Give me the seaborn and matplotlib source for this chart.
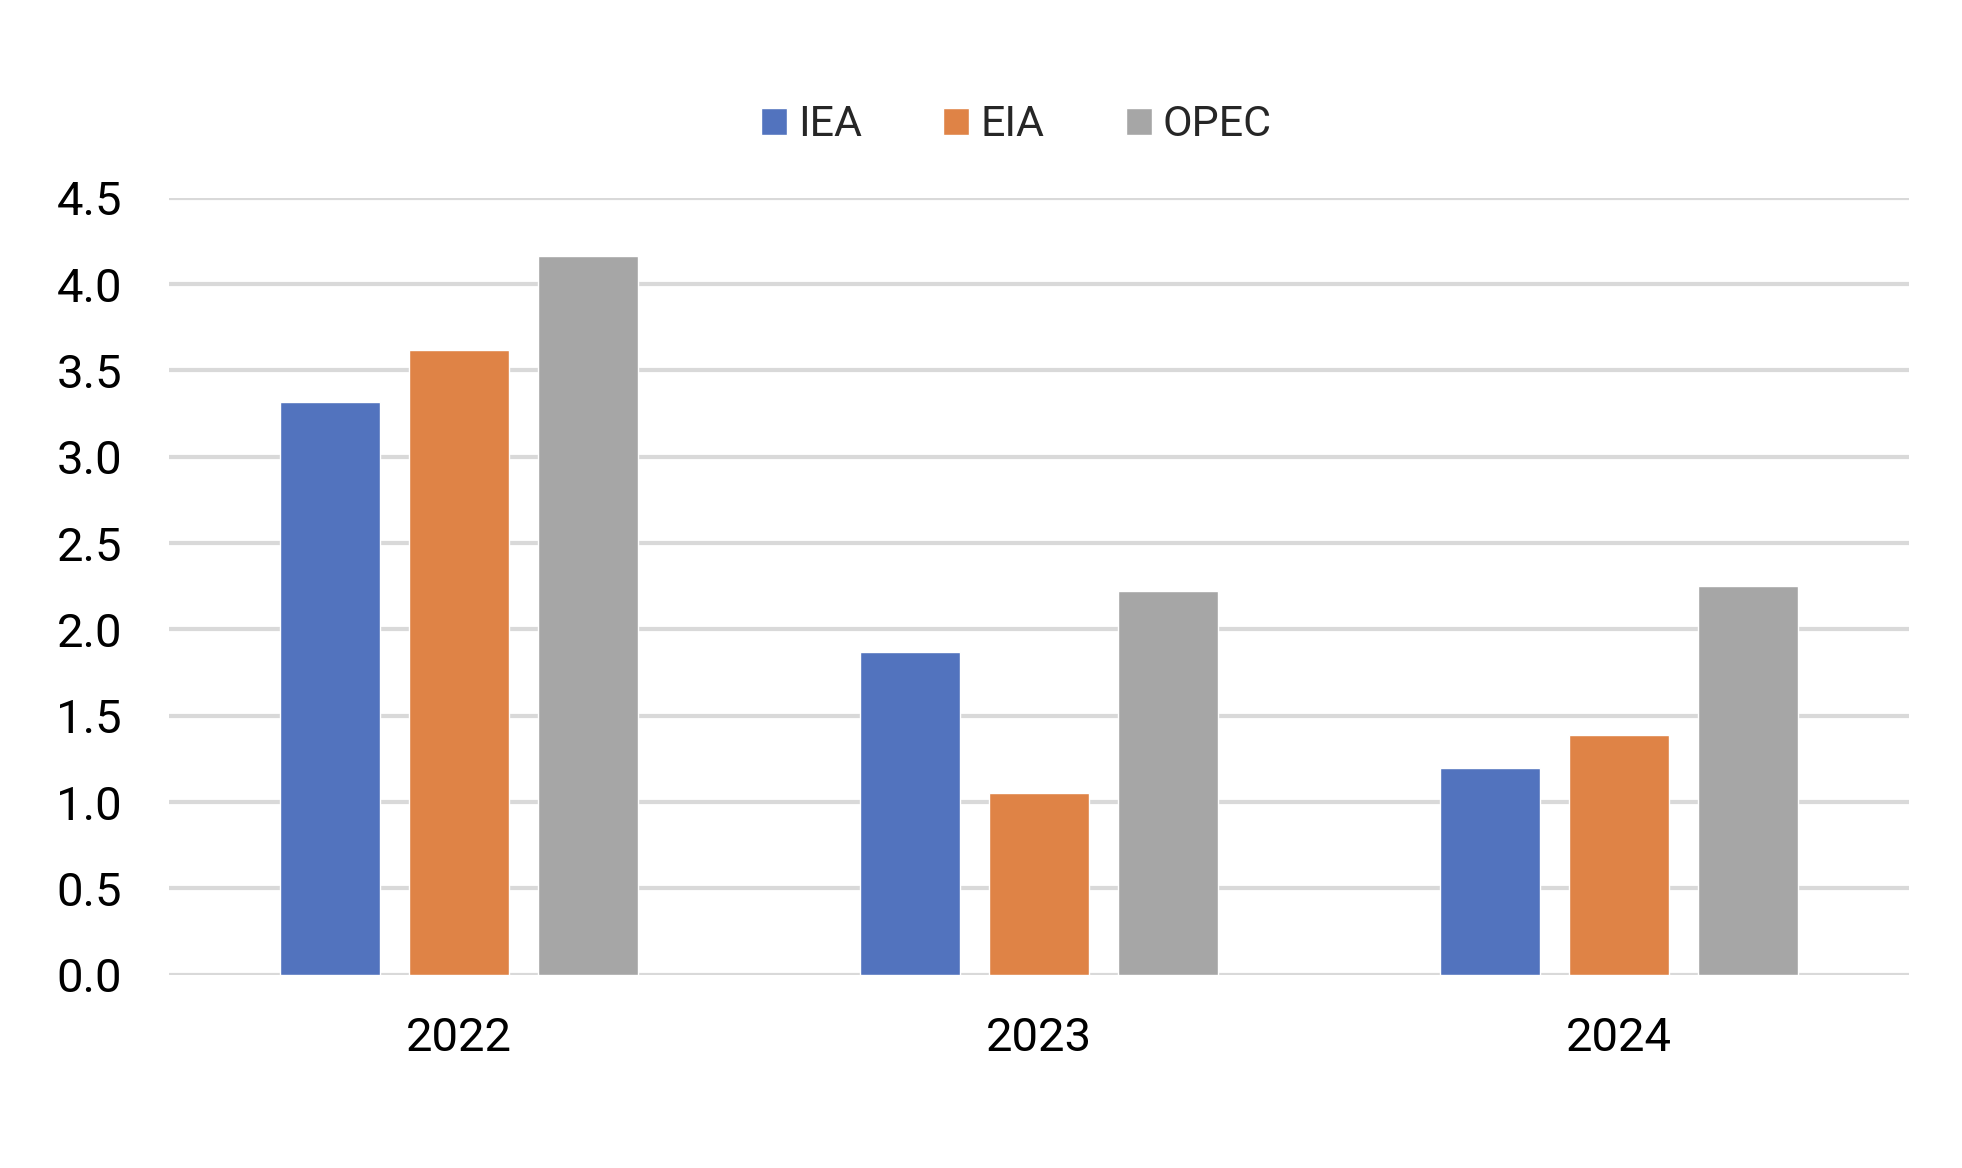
import matplotlib
matplotlib.use("Agg")
import matplotlib.pyplot as plt
import seaborn as sns
import pandas as pd

years = ["2022", "2023", "2024"]
agencies = ["IEA", "EIA", "OPEC"]
iea = [3.32, 1.87, 1.20]
eia = [3.62, 1.05, 1.39]
opec = [4.16, 2.22, 2.25]
colors = ["#5273BE", "#DF8346", "#A6A6A6"]
y_ticks = [0.0, 0.5, 1.0, 1.5, 2.0, 2.5, 3.0, 3.5, 4.0, 4.5]


def build_df() -> pd.DataFrame:
    record = []
    for name, vals in zip(agencies, [iea, eia, opec]):
        for yr, v in zip(years, vals):
            record.append([yr, name, v])
    return pd.DataFrame(record, columns=["year", "agency", "value"])


df = build_df()

sns.set_theme(style="white")
plt.rcParams["font.family"] = ["Roboto", "DejaVu Sans"]

fig = plt.figure(figsize=(19.62, 11.68), dpi=100)
ax = fig.add_axes([0.0862, 0.1654, 0.8868, 0.6653])

sns.barplot(data=df, x="year", y="value", hue="agency", order=years, hue_order=agencies,
            palette=colors, width=0.667, gap=0.22, saturation=1, ax=ax, legend=True)

ax.set_ylim(0, 4.5)
ax.set_xlim(-0.5, 2.5)
ax.set_yticks(y_ticks)
ax.set_yticklabels([f"{t:.1f}" for t in y_ticks])
ax.yaxis.grid(True, color="#D9D9D9", lw=3.0)
ax.set_axisbelow(True)
for s in ax.spines.values():
    s.set_visible(False)
ax.tick_params(axis="both", length=0, labelsize=34, colors="black")
ax.tick_params(axis="y", pad=34)
ax.tick_params(axis="x", pad=30)
ax.set_xlabel("")
ax.set_ylabel("")

handles, labels = ax.get_legend_handles_labels()
ax.legend(handles, labels, loc="center", bbox_to_anchor=(0.518, 0.893), bbox_transform=fig.transFigure,
          ncol=3, frameon=False, fontsize=31, handlelength=0.6, handleheight=0.6,
          handletextpad=0.25, columnspacing=1.9)

fig.savefig("out.png", dpi=100)
